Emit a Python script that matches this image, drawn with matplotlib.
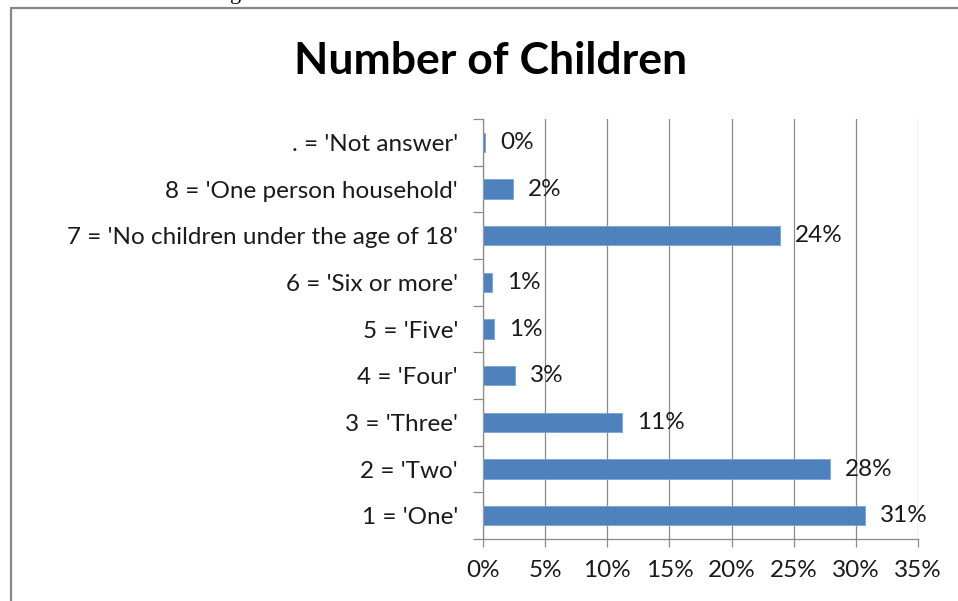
import matplotlib
matplotlib.use("Agg")
import matplotlib.pyplot as plt
from matplotlib.patches import Rectangle
from matplotlib.ticker import FixedLocator, PercentFormatter

plt.rcParams['font.family'] = ['Lato', 'DejaVu Sans']

# Survey answers, bottom to top as drawn
categories = [
    "1 = 'One'",
    "2 = 'Two'",
    "3 = 'Three'",
    "4 = 'Four'",
    "5 = 'Five'",
    "6 = 'Six or more'",
    "7 = 'No children under the age of 18'",
    "8 = 'One person household'",
    ". = 'Not answer'",
]
shares = [30.7, 27.9, 11.2, 2.6, 0.9, 0.7, 23.9, 2.4, 0.2]   # percent of respondents
x_ticks = [0, 5, 10, 15, 20, 25, 30, 35]

W, H = 958, 601
fig = plt.figure(figsize=(W / 100, H / 100), dpi=100)
fig.patch.set_facecolor('white')

# Outer chart frame (only left and top edges fall inside the canvas)
fig.patches.append(Rectangle((10.5 / W, -0.1), 1.2, (H - 7.5) / H + 0.1,
                             transform=fig.transFigure, fill=False,
                             edgecolor='#878787', linewidth=1.6))

# Tail of the line of text sitting above the chart
fig.text(236 / W, 1 + 1.0 / H, 'g', family='Liberation Serif', fontsize=16,
         ha='center', va='baseline', color='black')

left, right, bottom, top = 483, 918, 539, 119
ax = fig.add_axes([left / W, (H - bottom) / H, (right - left) / W, (bottom - top) / H])

ypos = list(range(len(categories)))
ax.barh(ypos, shares, height=0.41, color='#4F81BD', edgecolor='#7EA3D3',
        linewidth=0.6, zorder=3)

FS = 17.5
for y, v in zip(ypos, shares):
    ax.text(v + 1.2, y, f"{v:.0f}%", ha='left', va='center',
            fontsize=FS, color='#1a1a1a', zorder=4)

ax.set_xlim(0, 35)
ax.set_ylim(-0.5, len(categories) - 0.5)

ax.xaxis.set_major_locator(FixedLocator(x_ticks))
ax.xaxis.set_major_formatter(PercentFormatter(decimals=0))
ax.xaxis.grid(True, color='#8a8a8a', linewidth=0.9, zorder=0)

# Category names at bar centers, tick marks on category boundaries
ax.set_yticks([y - 0.5 for y in ypos] + [len(categories) - 0.5])
ax.set_yticklabels([])
ax.set_yticks(ypos, minor=True)
ax.set_yticklabels(categories, minor=True)
ax.tick_params(axis='y', which='minor', length=0, pad=18, labelsize=FS,
               labelcolor='#1a1a1a')
ax.tick_params(axis='y', which='major', length=7, width=0.9, color='#8a8a8a')
ax.tick_params(axis='x', which='major', length=6, width=0.9, color='#8a8a8a',
               labelsize=FS, labelcolor='#1a1a1a', pad=9)

for side in ('top', 'right'):
    ax.spines[side].set_visible(False)
for side in ('left', 'bottom'):
    ax.spines[side].set_color('#8a8a8a')
    ax.spines[side].set_linewidth(0.9)
ax.set_axisbelow(True)

fig.text(490.5 / W, 1 - 61 / H, 'Number of Children', ha='center', va='center',
         fontsize=32, fontweight='bold', color='black')

fig.savefig('out.png', dpi=100)
